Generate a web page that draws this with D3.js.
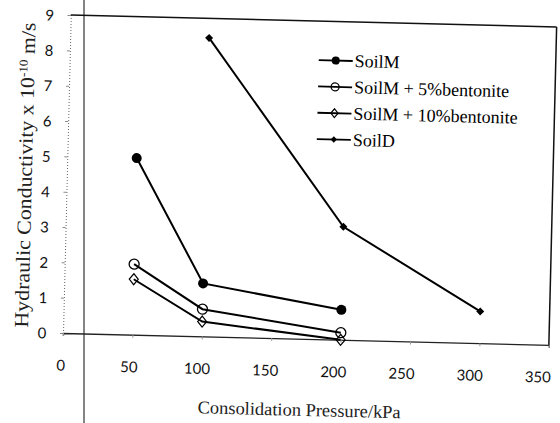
<!DOCTYPE html>
<html>
<head>
<meta charset="utf-8">
<script src="https://cdn.jsdelivr.net/npm/d3@7"></script>
<style>
  body { margin: 0; background: #fff; }
  svg { display: block; }
</style>
</head>
<body>
<svg class="chart"></svg>
<script>
// values
var pressure = [50, 100, 200];
var pressureD = [100, 200, 300];
var soilM = [5.0, 1.5, 0.85];
var soilM5 = [2.0, 0.77, 0.2];
var soilM10 = [1.57, 0.42, 0.0];
var soilD = [8.45, 3.2, 0.9];
var xTicks = [0, 50, 100, 150, 200, 250, 300, 350];
var yTicks = [0, 1, 2, 3, 4, 5, 6, 7, 8, 9];
var seriesNames = ["SoilM", "SoilM + 5% bentonite", "SoilM + 10% bentonite", "SoilD"];

var W = 560, H = 423;
var margin = { top: 15, right: 11, bottom: 90, left: 63 };
var width = W - margin.left - margin.right;   // 486
var height = H - margin.top - margin.bottom;  // 318
var tilt = 1.4; // the page was scanned a little crooked

var svg = d3.select(".chart")
    .attr("width", W)
    .attr("height", H);

// the fold line of the scanned page, not tilted
svg.append("line")
    .attr("x1", 84).attr("x2", 84)
    .attr("y1", 0).attr("y2", H)
    .attr("stroke", "#333")
    .attr("stroke-width", 1.2);

var page = svg.append("g")
    .attr("transform", "rotate(" + tilt + "," + margin.left + "," + (margin.top + height) + ")");

var chart = page.append("g")
    .attr("transform", "translate(" + margin.left + "," + margin.top + ")");

var x = d3.scaleLinear().domain([0, 350]).range([0, width]);
var y = d3.scaleLinear().domain([0, 9]).range([height, 0]);

// y axis, dotted
var yAxis = chart.append("g")
    .call(d3.axisLeft(y).tickValues(yTicks).tickSize(3).tickFormat(d3.format("d")));
yAxis.select(".domain")
    .attr("stroke", "#666")
    .attr("stroke-dasharray", "1,2");
yAxis.selectAll(".tick line").attr("stroke", "#888");
yAxis.selectAll(".tick text")
    .attr("x", -21)
    .attr("dy", "0.36em")
    .attr("text-anchor", "middle")
    .style("font-family", "Lato, 'Open Sans', sans-serif")
    .style("font-size", "15px")
    .attr("fill", "#111");

// x axis
var xAxis = chart.append("g")
    .attr("transform", "translate(0," + height + ")")
    .call(d3.axisBottom(x).tickValues(xTicks).tickSize(3).tickFormat(d3.format("d")));
xAxis.select(".domain")
    .attr("stroke", "#222")
    .attr("stroke-width", 1.3);
xAxis.selectAll(".tick line").attr("stroke", "#999");
xAxis.selectAll(".tick text")
    .attr("x", function(d) { return -2 - d * 0.025; }) // scan drift of the labels
    .attr("y", 27)
    .attr("dy", "0.71em")
    .style("font-family", "Lato, 'Open Sans', sans-serif")
    .style("font-size", "15px")
    .attr("fill", "#111");

// top and right frame
chart.append("line")
    .attr("x1", x(0)).attr("x2", x(350))
    .attr("y1", y(9)).attr("y2", y(9))
    .attr("stroke", "#111").attr("stroke-width", 1.5);
chart.append("line")
    .attr("x1", x(350)).attr("x2", x(350))
    .attr("y1", y(9)).attr("y2", y(0))
    .attr("stroke", "#111").attr("stroke-width", 1.5);

// axis titles
var yTitle = page.append("text")
    .attr("transform", "translate(28," + (margin.top + 161) + ") rotate(-90)")
    .attr("text-anchor", "middle")
    .attr("textLength", 305)
    .attr("lengthAdjust", "spacingAndGlyphs")
    .style("font-family", "'Liberation Serif', 'Times New Roman', serif")
    .style("font-size", "20px")
    .attr("fill", "#222");
yTitle.append("tspan").text("Hydraulic Conductivity x 10");
yTitle.append("tspan").attr("dy", -7).style("font-size", "12px").text("-10");
yTitle.append("tspan").attr("dy", 7).text(" m/s");

page.append("text")
    .attr("x", margin.left + 238)
    .attr("y", 410)
    .attr("text-anchor", "middle")
    .attr("textLength", 203)
    .attr("lengthAdjust", "spacingAndGlyphs")
    .style("font-family", "'Liberation Serif', 'Times New Roman', serif")
    .style("font-size", "18px")
    .attr("fill", "#222")
    .text("Consolidation Pressure/kPa");

// series
var series = [
    { name: seriesNames[0], xs: pressure, ys: soilM, marker: "dot" },
    { name: seriesNames[1], xs: pressure, ys: soilM5, marker: "ring" },
    { name: seriesNames[2], xs: pressure, ys: soilM10, marker: "openDiamond" },
    { name: seriesNames[3], xs: pressureD, ys: soilD, marker: "diamond" }
];

var line = d3.line()
    .x(function(d) { return x(d[0]); })
    .y(function(d) { return y(d[1]); });

function drawMarker(g, type, cx, cy, s) {
    if (type === "dot") {
        g.append("circle").attr("cx", cx).attr("cy", cy).attr("r", 5 * s)
            .attr("fill", "#000");
    } else if (type === "ring") {
        g.append("circle").attr("cx", cx).attr("cy", cy).attr("r", 5 * s)
            .attr("fill", "none").attr("stroke", "#000").attr("stroke-width", 1.3);
    } else if (type === "openDiamond") {
        var w = 4.5 * s, h = 5.5 * s;
        g.append("path")
            .attr("d", "M" + cx + "," + (cy - h) + "L" + (cx + w) + "," + cy + "L" + cx + "," + (cy + h) + "L" + (cx - w) + "," + cy + "Z")
            .attr("fill", "none").attr("stroke", "#000").attr("stroke-width", 1.2);
    } else {
        var d = 4 * s;
        g.append("path")
            .attr("d", "M" + cx + "," + (cy - d) + "L" + (cx + d) + "," + cy + "L" + cx + "," + (cy + d) + "L" + (cx - d) + "," + cy + "Z")
            .attr("fill", "#000");
    }
}

series.forEach(function(s) {
    var pts = s.xs.map(function(v, i) { return [v, s.ys[i]]; });
    var g = chart.append("g").attr("class", "series");
    g.append("path")
        .datum(pts)
        .attr("d", line)
        .attr("fill", "none")
        .attr("stroke", "#000")
        .attr("stroke-width", 2);
    pts.forEach(function(p) {
        drawMarker(g, s.marker, x(p[0]), y(p[1]), 1);
    });
});

// legend
var legend = chart.append("g")
    .attr("transform", "translate(" + (312 - margin.left) + "," + (54 - margin.top) + ")");

series.forEach(function(s, i) {
    var row = legend.append("g").attr("transform", "translate(0," + (i * 26.3) + ")");
    row.append("line")
        .attr("x1", 0).attr("x2", 34)
        .attr("y1", 0).attr("y2", 0)
        .attr("stroke", "#000").attr("stroke-width", 1.8);
    drawMarker(row, s.marker, 17, 0, 0.8);
    row.append("text")
        .attr("x", 36)
        .attr("y", 6)
        .style("font-family", "'Liberation Serif', 'Times New Roman', serif")
        .style("font-size", "18px")
        .attr("fill", "#000")
        .text(s.name.replace("% ", "%"));
});
</script>
</body>
</html>
